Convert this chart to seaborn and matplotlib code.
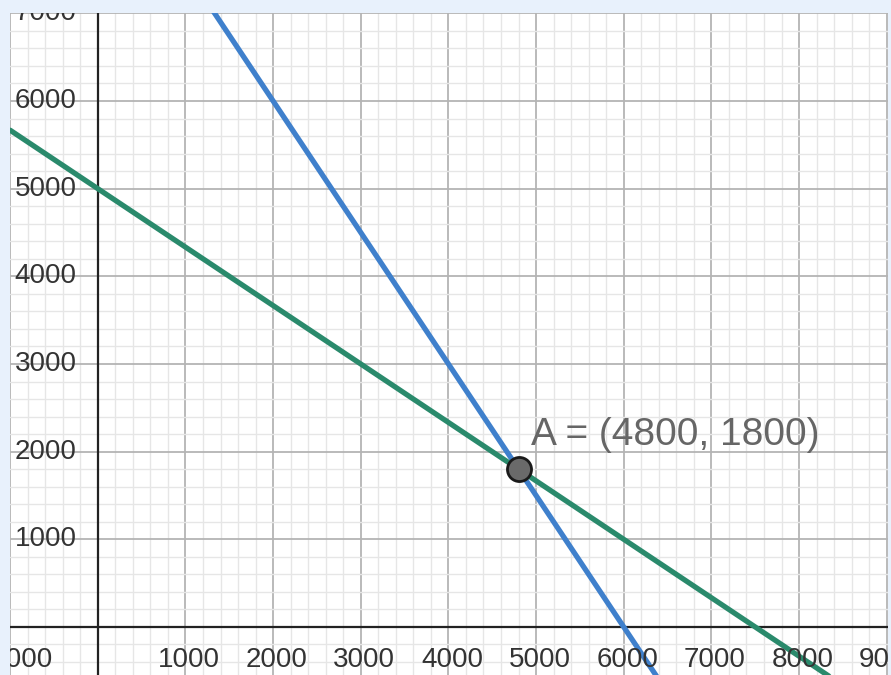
import numpy as np
import pandas as pd
import matplotlib
matplotlib.use("Agg")
import matplotlib.pyplot as plt
import matplotlib.transforms as mtransforms
from matplotlib.ticker import MultipleLocator
import seaborn as sns

# ---- data ----
blue_x_intercept = 6000
blue_y_intercept = 9000
green_x_intercept = 7500
green_y_intercept = 5000
point_label = "A"
point_x = [4800]
point_y = [1800]
x_tick_values = [-1000, 1000, 2000, 3000, 4000, 5000, 6000, 7000, 8000, 9000]
y_tick_values = [1000, 2000, 3000, 4000, 5000, 6000, 7000]

xs = np.linspace(-1000, 9100, 200)
df = pd.concat([
    pd.DataFrame({"x": xs, "y": blue_y_intercept * (1 - xs / blue_x_intercept), "line": "blue"}),
    pd.DataFrame({"x": xs, "y": green_y_intercept * (1 - xs / green_x_intercept), "line": "green"}),
])
pt = pd.DataFrame({"x": point_x, "y": point_y})

sns.set_style("white")
plt.rcParams['font.family'] = ['Liberation Sans', 'DejaVu Sans']

fig = plt.figure(figsize=(8.91, 6.75), dpi=100, facecolor="#e8f1fc")
ax = fig.add_axes([10 / 891, 0, 878 / 891, 662 / 675])
ax.set_facecolor("white")

xlim = (-1002, 9015)
ylim = (-548, 7004)
ax.set_xlim(*xlim)
ax.set_ylim(*ylim)

# grid
ax.xaxis.set_major_locator(MultipleLocator(1000))
ax.yaxis.set_major_locator(MultipleLocator(1000))
ax.xaxis.set_minor_locator(MultipleLocator(200))
ax.yaxis.set_minor_locator(MultipleLocator(200))
ax.grid(which="minor", color="#e6e6e6", lw=1.0, zorder=0)
ax.grid(which="major", color="#b4b4b4", lw=1.3, zorder=0)
ax.set_axisbelow(True)
ax.tick_params(which="both", length=0, labelbottom=False, labelleft=False)
for s in ax.spines.values():
    s.set_visible(False)

# axes lines
ax.axhline(0, color="#222222", lw=1.6, zorder=1)
ax.axvline(0, color="#222222", lw=1.6, zorder=1)

sns.lineplot(data=df, x="x", y="y", hue="line",
             palette={"blue": "#3f80cc", "green": "#2a8a6c"},
             lw=3.8, legend=False, ax=ax, zorder=3, sort=False)
sns.scatterplot(data=pt, x="x", y="y", s=300, color="#6a6a6a",
                edgecolor="#1a1a1a", linewidth=2, ax=ax, zorder=5)

ax.set_xlabel("")
ax.set_ylabel("")

# tick labels as clipped texts
for v in x_tick_values:
    off = mtransforms.offset_copy(ax.transData, fig=fig, x=3.5, y=-20, units="dots")
    lab = f"{v}".replace("-", "\u2212")
    ax.text(v, 0, lab, transform=off, ha="center", va="top", fontsize=20,
            color="#333333", clip_on=True)
for v in y_tick_values:
    off = mtransforms.offset_copy(ax.transData, fig=fig, x=-21, y=0, units="dots")
    ax.text(0, v, f"{v}", transform=off, ha="right", va="center", fontsize=20,
            color="#333333", clip_on=True)

# point label
off = mtransforms.offset_copy(ax.transData, fig=fig, x=12, y=24, units="dots")
ax.text(point_x[0], point_y[0], f"{point_label} = ({point_x[0]}, {point_y[0]})",
        transform=off, ha="left", va="baseline", fontsize=28, color="#666666",
        zorder=6)

fig.savefig("out.png", dpi=100, facecolor=fig.get_facecolor())
